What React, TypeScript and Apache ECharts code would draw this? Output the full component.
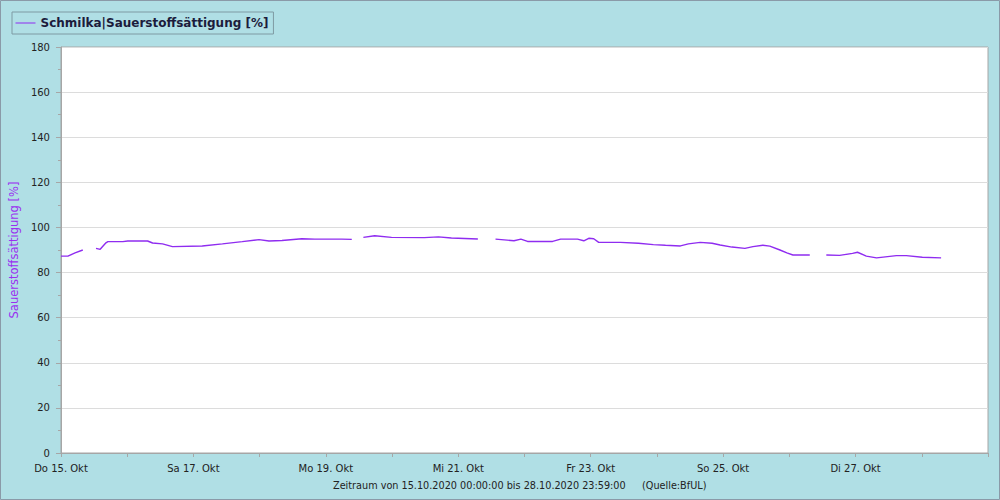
import React, { useEffect, useRef } from "react";
import * as echarts from "echarts";

const seriesName = "Schmilka|Sauerstoffsättigung [%]";
const dayLabels = ["Do 15. Okt", "Sa 17. Okt", "Mo 19. Okt", "Mi 21. Okt", "Fr 23. Okt", "So 25. Okt", "Di 27. Okt"];
// hours since 15.10.2020 00:00
const hours = [
  0, 2.5, 5.1, 7.9, 10,
  12.7, 14.2, 16.3, 17, 22.4, 24.2, 31.4, 33.2, 36.8, 40.4, 51.2, 58.5, 65.7, 71.8, 75.4, 80.1, 87.3, 92, 101.8, 105.4, 107,
  109.6, 113.7, 119.8, 131.7, 136.8, 141.5, 151.1, 154,
  157.5, 164.2, 166.7, 169.1, 178.2, 181.1, 187.2, 189.5, 191.3, 193.1, 194.9, 198.1, 202.8, 209.3, 214.7, 219.1, 224.5, 227.4, 231.7, 236.0, 238.9, 243.2, 247.9, 250.8, 254.4, 256.9, 260.6, 263.1, 265.3, 271.4, 275,
  277.4, 282.2, 286.9, 288.7, 291.9, 295.6, 302.8, 306.4, 312.2, 319.0,
];
const values = [
  87.3, 87.3, 88.7, 90.0, null,
  90.7, 90.3, 93.2, 93.7, 93.7, 94.0, 94.0, 93.1, 92.7, 91.5, 91.8, 92.7, 93.7, 94.6, 94.0, 94.2, 95.0, 94.8, 94.8, 94.7, null,
  95.6, 96.3, 95.6, 95.5, 95.8, 95.3, 94.9, null,
  94.8, 94.1, 94.8, 93.8, 93.8, 94.8, 94.8, 94.1, 95.2, 95.0, 93.4, 93.4, 93.4, 93.0, 92.4, 92.1, 91.8, 92.7, 93.4, 93.0, 92.2, 91.3, 90.7, 91.5, 92.1, 91.7, 90.0, 88.7, 87.8, 87.8, null,
  87.8, 87.6, 88.5, 89.0, 87.3, 86.5, 87.5, 87.5, 86.8, 86.5,
];
const footerRange = "Zeitraum von 15.10.2020 00:00:00 bis 28.10.2020 23:59:00";
const footerSource = "(Quelle:BfUL)";

const FONT = "DejaVu Sans";

export default function App() {
  const ref = useRef<HTMLDivElement>(null);
  useEffect(() => {
    const chart = echarts.init(ref.current!, undefined, { renderer: "svg" });
    const data = hours.map((h, i) => [h, values[i]]);
    chart.setOption({
      animation: false,
      backgroundColor: "#b0dfe5",
      textStyle: { fontFamily: FONT },
      legend: {
        left: 12,
        top: 12,
        padding: [5, 5, 5, 3],
        itemGap: 0,
        itemWidth: 20,
        itemHeight: 10,
        itemStyle: { opacity: 0 },
        lineStyle: { width: 1 },
        borderColor: "#7f9aa3",
        borderWidth: 1,
        borderRadius: 0,
        textStyle: { fontFamily: FONT, fontSize: 12, fontWeight: "bold", color: "#1c1c3c" },
        data: [seriesName],
      },
      grid: {
        left: 58,
        top: 47,
        right: 12,
        bottom: 47,
        show: true,
        backgroundColor: "#ffffff",
        borderColor: "#a6a6a6",
        borderWidth: 1,
      },
      xAxis: {
        type: "value",
        min: 0,
        max: 336,
        interval: 24,
        axisLine: { lineStyle: { color: "#a6a6a6" } },
        axisTick: { show: true, length: 4, lineStyle: { color: "#a6a6a6" } },
        splitLine: { show: false },
        axisLabel: {
          color: "#222",
          fontSize: 10,
          margin: 10,
          fontFamily: FONT,
          formatter: (v: number) => (v % 48 === 0 && dayLabels[v / 48] ? dayLabels[v / 48] : ""),
        },
      },
      yAxis: {
        type: "value",
        min: 0,
        max: 180,
        interval: 20,
        name: "Sauerstoffsättigung [%]",
        nameLocation: "middle",
        nameGap: 38,
        nameTextStyle: { color: "#9a30f0", fontSize: 11.5, fontFamily: FONT },
        axisLine: { show: true, lineStyle: { color: "#a6a6a6" } },
        axisTick: { show: true, length: 5, lineStyle: { color: "#a6a6a6" } },
        minorTick: { show: true, splitNumber: 2, length: 3, lineStyle: { color: "#a6a6a6" } },
        splitLine: { show: true, lineStyle: { color: "#dcdcdc" } },
        axisLabel: { color: "#222", fontSize: 10, margin: 11, fontFamily: FONT },
      },
      series: [
        {
          name: seriesName,
          type: "line",
          data,
          symbol: "none",
          connectNulls: false,
          lineStyle: { color: "#8f2cf0", width: 1.4 },
          itemStyle: { color: "#8f2cf0" },
        },
      ],
      graphic: [
        {
          type: "text",
          x: 333,
          y: 480,
          style: { text: footerRange, fill: "#222", fontSize: 9.7, fontFamily: FONT },
        },
        {
          type: "text",
          x: 642,
          y: 480,
          style: { text: footerSource, fill: "#222", fontSize: 9.7, fontFamily: FONT },
        },
        {
          type: "rect",
          shape: { x: 0.5, y: 0.5, width: 999, height: 499 },
          style: { fill: "none", stroke: "#8a9aa8", lineWidth: 1 },
          silent: true,
        },
      ],
    });
    return () => chart.dispose();
  }, []);
  return <div ref={ref} style={{ position: "fixed", left: 0, top: 0, width: 1000, height: 500 }} />;
}
